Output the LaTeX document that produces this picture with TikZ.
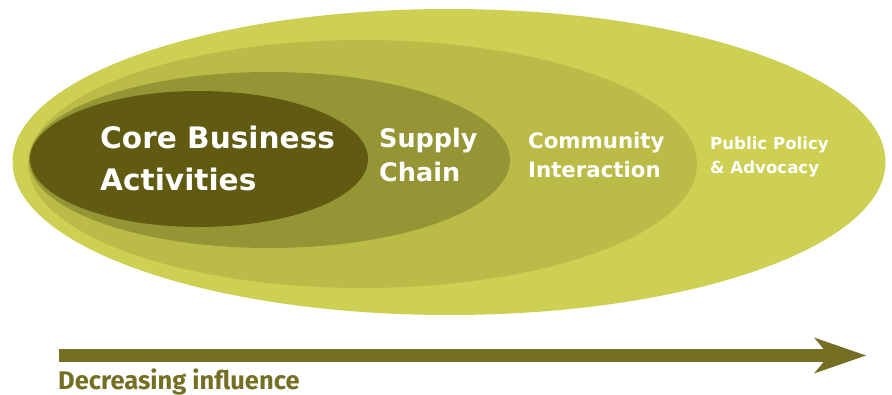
\documentclass[tikz,border=0pt]{standalone}
\usepackage{fontspec}
\setmainfont{Fira Sans}
\newfontfamily\labelfont{DejaVu Sans}
\usetikzlibrary{arrows.meta}
\definecolor{ringouter}{HTML}{CDD052}
\definecolor{ringcommunity}{HTML}{BBBC47}
\definecolor{ringsupply}{HTML}{959535}
\definecolor{ringcore}{HTML}{615B12}
\definecolor{influence}{HTML}{746F22}
\begin{document}
\begin{tikzpicture}[x=1pt,y=-1pt,
  lbl/.style={inner sep=0pt, anchor=west, align=left, text=white},
]
\useasboundingbox (0,0) rectangle (892,394);

% nested spheres of influence, outermost first
\fill[ringouter]     (449,162)   ellipse [x radius=436.5, y radius=153];
\fill[ringcommunity] (362.5,164) ellipse [x radius=334.5, y radius=124];
\fill[ringsupply]    (269.5,160) ellipse [x radius=240.5, y radius=88];
\fill[ringcore]      (199,159)   ellipse [x radius=169,   y radius=68];

% labels
\node[lbl, font=\labelfont\bfseries\fontsize{29.6}{42}\selectfont] (core) at (100,158)
  {Core Business\\Activities};
\node[lbl, font=\labelfont\bfseries\fontsize{25.5}{34}\selectfont] (supply) at (379,154.5)
  {Supply\\Chain};
\node[lbl, font=\labelfont\bfseries\fontsize{21.3}{28.4}\selectfont] (community) at (528,155)
  {Community\\Interaction};
\node[lbl, font=\labelfont\bfseries\fontsize{16.6}{23.3}\selectfont] (policy) at (710,157)
  {Public Policy\\\& Advocacy};

% direction of decreasing influence
\coordinate (arrowstart) at (59,355.5);
\coordinate (arrowend) at (866,355.5);
\draw[influence, line width=12.5pt,
  -{Stealth[length=52pt, width=36pt, inset=15pt, line width=0pt]}]
  (arrowstart) -- (arrowend);
\node[inner sep=0pt, anchor=base west, text=influence,
  font=\bfseries\fontsize{25.5}{30}\selectfont] (caption) at (58,389)
  {Decreasing influence};
\end{tikzpicture}
\end{document}
